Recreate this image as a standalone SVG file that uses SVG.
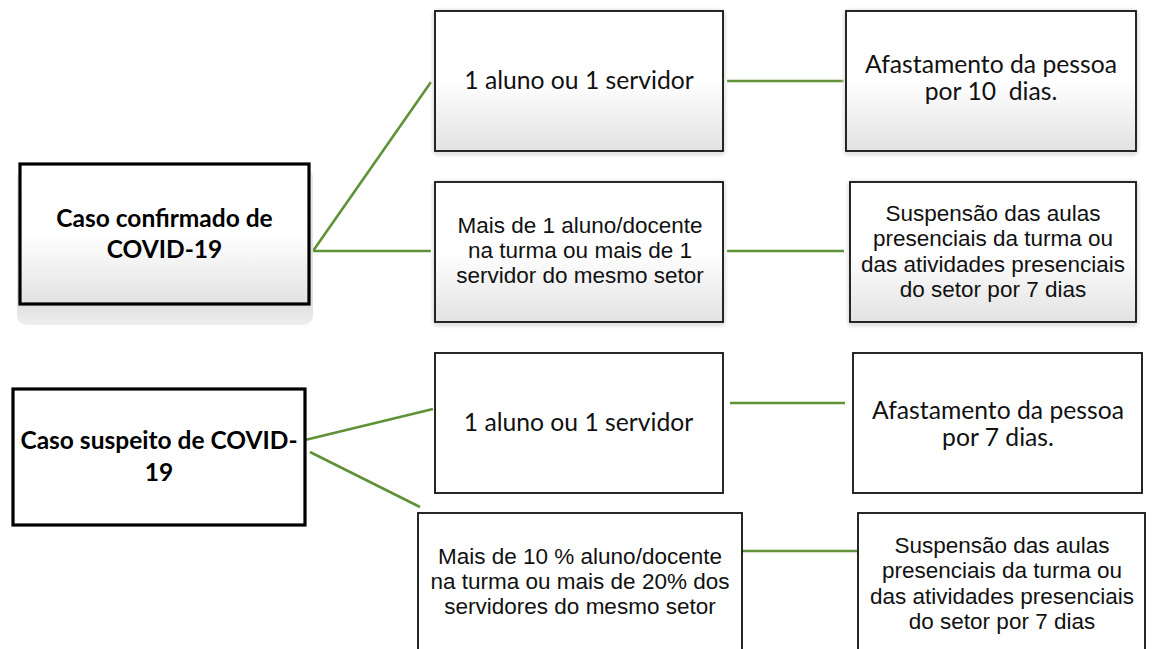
<svg xmlns="http://www.w3.org/2000/svg" width="1156" height="649" viewBox="0 0 1156 649">
  <defs>
    <linearGradient id="boxFill" x1="0" y1="0" x2="0" y2="1">
      <stop offset="0" stop-color="#ffffff"/>
      <stop offset="0.5" stop-color="#ffffff"/>
      <stop offset="1" stop-color="#e2e2e2"/>
    </linearGradient>
    <linearGradient id="plinthFill" x1="0" y1="0" x2="0" y2="1">
      <stop offset="0" stop-color="#e9e9e9"/>
      <stop offset="0.85" stop-color="#dedede"/>
      <stop offset="1" stop-color="#efefef"/>
    </linearGradient>
    <filter id="soft" x="-10%" y="-10%" width="120%" height="120%">
      <feGaussianBlur stdDeviation="1.5"/>
    </filter>
  </defs>
  <style>
    .box { fill: url(#boxFill); stroke: #111; stroke-width: 1.8; }
    .plain { fill: #ffffff; stroke: #111; stroke-width: 1.8; }
    .root { stroke: #000; stroke-width: 3.2; }
    .halo { fill: #e4e4e4; filter: url(#soft); }
    .link { stroke: #5f9237; stroke-width: 2.6; fill: none; stroke-linecap: butt; }
    .cal { font-family: Lato, "Liberation Sans", sans-serif; font-size: 24.7px; fill: #111; text-anchor: middle; }
    .calb { font-family: Lato, "Liberation Sans", sans-serif; font-size: 24.5px; font-weight: bold; fill: #000; text-anchor: middle; }
    .ari { font-family: "Liberation Sans", Arial, sans-serif; font-size: 22.5px; fill: #111; text-anchor: middle; }
  </style>
  <rect width="1156" height="649" fill="#ffffff"/>

  <!-- connectors -->
  <g id="connectors">
    <line class="link" x1="313" y1="251" x2="431" y2="82"/>
    <line class="link" x1="313" y1="251" x2="431" y2="251"/>
    <line class="link" x1="727" y1="81" x2="844" y2="81"/>
    <line class="link" x1="727" y1="251" x2="844" y2="251"/>
    <line class="link" x1="305" y1="440" x2="433" y2="409"/>
    <line class="link" x1="310" y1="452" x2="420" y2="507"/>
    <line class="link" x1="730" y1="403" x2="845" y2="403"/>
    <line class="link" x1="740" y1="551" x2="857" y2="551"/>
  </g>

  <!-- confirmed case -->
  <g id="caso-confirmado">
    <rect x="17" y="168" width="296" height="157" rx="9" fill="url(#plinthFill)"/>
    <rect class="box root" x="20" y="164" width="289" height="140"/>
    <text class="calb"><tspan x="164.5" y="227">Caso confirmado de</tspan><tspan x="164.5" y="258">COVID-19</tspan></text>
  </g>

  <g id="conf-um">
    <rect class="halo" x="432" y="9" width="294" height="147" rx="6"/>
    <rect class="box" x="435" y="11" width="288" height="140"/>
    <text class="cal" x="579" y="89">1 aluno ou 1 servidor</text>
  </g>

  <g id="conf-um-acao">
    <rect class="halo" x="843" y="9" width="296" height="147" rx="6"/>
    <rect class="box" x="846" y="11" width="290" height="140"/>
    <text class="cal" xml:space="preserve"><tspan x="991" y="73">Afastamento da pessoa</tspan><tspan x="991" y="100">por 10  dias.</tspan></text>
  </g>

  <g id="conf-varios">
    <rect class="halo" x="432" y="180" width="294" height="147" rx="6"/>
    <rect class="box" x="435" y="182" width="288" height="140"/>
    <text class="ari"><tspan x="580" y="232.8">Mais de 1 aluno/docente</tspan><tspan x="580" y="258">na turma ou mais de 1</tspan><tspan x="580" y="283.2">servidor do mesmo setor</tspan></text>
  </g>

  <g id="conf-varios-acao">
    <rect class="halo" x="847" y="180" width="292" height="147" rx="6"/>
    <rect class="box" x="850" y="182" width="286" height="140"/>
    <text class="ari"><tspan x="993" y="221.2">Suspensão das aulas</tspan><tspan x="993" y="246.4">presenciais da turma ou</tspan><tspan x="993" y="271.6">das atividades presenciais</tspan><tspan x="993" y="296.8">do setor por 7 dias</tspan></text>
  </g>

  <!-- suspected case -->
  <g id="caso-suspeito">
    <rect class="plain root" x="13" y="389" width="292" height="136"/>
    <text class="calb"><tspan x="159" y="449">Caso suspeito de COVID-</tspan><tspan x="159" y="481">19</tspan></text>
  </g>

  <g id="susp-um">
    <rect class="plain" x="435" y="353" width="288" height="140"/>
    <text class="cal" x="578.5" y="431">1 aluno ou 1 servidor</text>
  </g>

  <g id="susp-um-acao">
    <rect class="plain" x="853" y="353" width="289" height="140"/>
    <text class="cal"><tspan x="998" y="419">Afastamento da pessoa</tspan><tspan x="998" y="446">por 7 dias.</tspan></text>
  </g>

  <g id="susp-varios">
    <rect class="plain" x="418" y="513" width="324" height="150"/>
    <text class="ari"><tspan x="580" y="563.8">Mais de 10 % aluno/docente</tspan><tspan x="580" y="589">na turma ou mais de 20% dos</tspan><tspan x="580" y="614.2">servidores do mesmo setor</tspan></text>
  </g>

  <g id="susp-varios-acao">
    <rect class="plain" x="858" y="513" width="287" height="150"/>
    <text class="ari"><tspan x="1002" y="553.2">Suspensão das aulas</tspan><tspan x="1002" y="578.4">presenciais da turma ou</tspan><tspan x="1002" y="603.6">das atividades presenciais</tspan><tspan x="1002" y="628.8">do setor por 7 dias</tspan></text>
  </g>
</svg>
